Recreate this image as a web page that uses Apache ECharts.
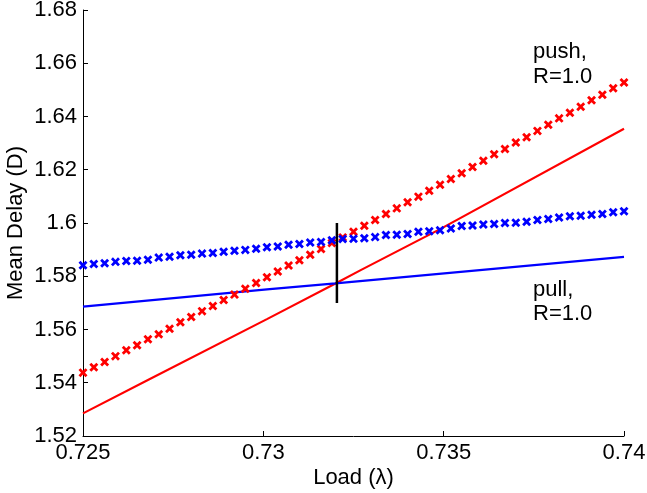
<!DOCTYPE html>
<html>
<head>
<meta charset="utf-8">
<script src="https://cdn.jsdelivr.net/npm/echarts@6/dist/echarts.min.js"></script>
<style>
html,body{margin:0;padding:0;background:#fff;}
#chart{width:647px;height:493px;}
</style>
</head>
<body>
<div id="chart"></div>
<script>
// ---- data ----
var loads = [0.725, 0.7253, 0.7256, 0.7259, 0.7262, 0.7265, 0.7268, 0.7271, 0.7274, 0.7277,
  0.728, 0.7283, 0.7286, 0.7289, 0.7292, 0.7295, 0.7298, 0.7301, 0.7304, 0.7307,
  0.731, 0.7313, 0.7316, 0.7319, 0.7322, 0.7325, 0.7328, 0.7331, 0.7334, 0.7337,
  0.734, 0.7343, 0.7346, 0.7349, 0.7352, 0.7355, 0.7358, 0.7361, 0.7364, 0.7367,
  0.737, 0.7373, 0.7376, 0.7379, 0.7382, 0.7385, 0.7388, 0.7391, 0.7394, 0.7397, 0.74];
var pushSim = [1.5438, 1.5458, 1.5478, 1.5500, 1.5522, 1.5541, 1.5563, 1.5582, 1.5603, 1.5627,
  1.5647, 1.5669, 1.5688, 1.5711, 1.5731, 1.5753, 1.5775, 1.5796, 1.5818, 1.5840,
  1.5860, 1.5881, 1.5902, 1.5925, 1.5946, 1.5967, 1.5990, 1.6011, 1.6034, 1.6055,
  1.6078, 1.6099, 1.6121, 1.6144, 1.6165, 1.6187, 1.6210, 1.6234, 1.6258, 1.6278,
  1.6302, 1.6322, 1.6346, 1.6369, 1.6393, 1.6414, 1.6437, 1.6461, 1.6482, 1.6506, 1.6528];
var pullSim = [1.5841, 1.5846, 1.5849, 1.5854, 1.5857, 1.5858, 1.5862, 1.5870, 1.5873, 1.5879,
  1.5881, 1.5885, 1.5887, 1.5892, 1.5896, 1.5899, 1.5903, 1.5909, 1.5912, 1.5918,
  1.5921, 1.5927, 1.5929, 1.5935, 1.5940, 1.5941, 1.5943, 1.5947, 1.5955, 1.5956,
  1.5959, 1.5967, 1.5969, 1.5973, 1.5979, 1.5989, 1.5991, 1.5994, 1.5996, 1.6000,
  1.6001, 1.6005, 1.6011, 1.6015, 1.6021, 1.6025, 1.6027, 1.6031, 1.6034, 1.6040, 1.6044];
var pushModelX = [0.725, 0.7268, 0.7301, 0.7320, 0.7327, 0.7349, 0.74];
var pushModelY = [1.5285, 1.5410, 1.5639, 1.5773, 1.5823, 1.5977, 1.6354];
var pullModelX = [0.725, 0.7301, 0.7320, 0.74];
var pullModelY = [1.5686, 1.5751, 1.5773, 1.5873];
var markerX = [0.73204, 0.73204];
var markerY = [1.5700, 1.6000];
var xTicks = [0.725, 0.74, 0.005];   // min, max, step
var yTicks = [1.52, 1.68, 0.02];     // min, max, step
var labelPush = ['push,', 'R=1.0'];
var labelPull = ['pull,', 'R=1.0'];

function zip(xs, ys) { return xs.map(function (x, i) { return [x, ys[i]]; }); }
function fmt(v) { return String(parseFloat(v.toFixed(4))); }

var FONT = 'Liberation Sans, Arial, Helvetica, sans-serif';
var FS = 22;
var XMARK = 'path://M0,2.2L2.2,0L5,2.8L7.8,0L10,2.2L7.2,5L10,7.8L7.8,10L5,7.2L2.2,10L0,7.8L2.8,5Z';

var chart = echarts.init(document.getElementById('chart'), null, {renderer: 'canvas'});
chart.setOption({
  animation: false,
  backgroundColor: '#ffffff',
  textStyle: {fontFamily: FONT},
  grid: {left: 83, right: 23, top: 10, bottom: 57, containLabel: false, outerBoundsMode: 'none'},
  xAxis: {
    type: 'value', min: xTicks[0], max: xTicks[1], interval: xTicks[2],
    name: 'Load (λ)', nameLocation: 'middle', nameGap: 31, nameMoveOverlap: false,
    nameTextStyle: {color: '#000', fontSize: FS, fontFamily: FONT},
    axisLine: {show: true, lineStyle: {color: '#000', width: 1}},
    axisTick: {show: true, inside: true, length: 5, lineStyle: {color: '#000'}},
    axisLabel: {color: '#000', fontSize: FS, fontFamily: FONT, margin: 6, formatter: fmt},
    splitLine: {show: false}
  },
  yAxis: {
    type: 'value', min: yTicks[0], max: yTicks[1], interval: yTicks[2],
    name: 'Mean Delay (D)', nameLocation: 'middle', nameGap: 56, nameRotate: 90,
    nameMoveOverlap: false,
    nameTextStyle: {color: '#000', fontSize: FS, fontFamily: FONT},
    axisLine: {show: true, lineStyle: {color: '#000', width: 1}},
    axisTick: {show: true, inside: true, length: 5, lineStyle: {color: '#000'}},
    axisLabel: {color: '#000', fontSize: FS, fontFamily: FONT, margin: 6, formatter: fmt},
    splitLine: {show: false}
  },
  series: [
    {type: 'line', data: zip(pushModelX, pushModelY), symbol: 'none',
     lineStyle: {color: '#ff0000', width: 2.2}, z: 2},
    {type: 'line', data: zip(pullModelX, pullModelY), symbol: 'none',
     lineStyle: {color: '#0000ff', width: 2.2}, z: 2},
    {type: 'scatter', data: zip(loads, pushSim), symbol: XMARK, symbolSize: 9,
     itemStyle: {color: '#ff0000', opacity: 1}, z: 3},
    {type: 'scatter', data: zip(loads, pullSim), symbol: XMARK, symbolSize: 9,
     itemStyle: {color: '#0000ff', opacity: 1}, z: 4},
    {type: 'line', data: zip(markerX, markerY), symbol: 'none',
     lineStyle: {color: '#000000', width: 2.5}, z: 5}
  ],
  graphic: [
    {type: 'text', left: 533, top: 39, z: 10,
     style: {text: labelPush.join('\n'), fill: '#000', font: FS + 'px ' + FONT, lineHeight: 25}},
    {type: 'text', left: 533, top: 278, z: 10,
     style: {text: labelPull.join('\n'), fill: '#000', font: FS + 'px ' + FONT, lineHeight: 24}}
  ]
});
</script>
</body>
</html>
